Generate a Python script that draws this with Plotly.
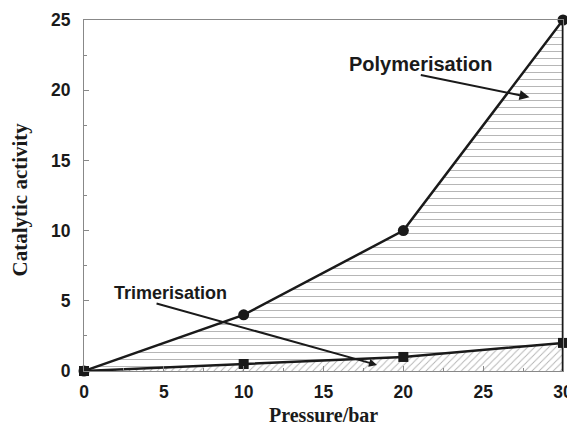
import plotly.graph_objects as go

pressure = [0, 10, 20, 30]
polymerisation = [0, 4, 10, 25]
trimerisation = [0, 0.5, 1, 2]

x_ticks = [0, 5, 10, 15, 20, 25, 30]
y_ticks = [0, 5, 10, 15, 20, 25]

fig = go.Figure()

fig.add_trace(go.Scatter(
    x=pressure, y=polymerisation, mode="lines+markers",
    line=dict(color="#1a1a1a", width=2.5),
    marker=dict(symbol="circle", size=11, color="#1a1a1a"),
    fill="tozeroy", fillcolor="rgba(0,0,0,0)",
    fillpattern=dict(shape="-", fgcolor="#6a6a6a", bgcolor="white", size=7, solidity=0.14),
    showlegend=False, cliponaxis=False,
))
fig.add_trace(go.Scatter(
    x=pressure, y=trimerisation, mode="lines+markers",
    line=dict(color="#1a1a1a", width=2.5),
    marker=dict(symbol="square", size=10, color="#1a1a1a"),
    fill="tozeroy", fillcolor="rgba(0,0,0,0)",
    fillpattern=dict(shape="/", fgcolor="#666666", bgcolor="white", size=5, solidity=0.18),
    showlegend=False, cliponaxis=False,
))
# right edge of the polymerisation area
fig.add_trace(go.Scatter(
    x=[pressure[-1], pressure[-1]], y=[0, polymerisation[-1]], mode="lines",
    line=dict(color="#1a1a1a", width=2.5), showlegend=False, hoverinfo="skip",
))

fig.add_annotation(
    x=27.9, y=19.5, ax=21.0, ay=21.1, xref="x", yref="y", axref="x", ayref="y",
    text="", showarrow=True, arrowhead=2, arrowsize=1, arrowwidth=2, arrowcolor="#1a1a1a",
)
fig.add_annotation(x=21.1, y=21.85, xref="x", yref="y", text="<b>Polymerisation</b>",
                   showarrow=False, font=dict(family="Liberation Sans, Arial", size=20, color="#1a1a1a"))
fig.add_annotation(
    x=18.35, y=0.43, ax=4.45, ay=4.84, xref="x", yref="y", axref="x", ayref="y",
    text="", showarrow=True, arrowhead=2, arrowsize=0.8, arrowwidth=2, arrowcolor="#1a1a1a",
)
fig.add_annotation(x=5.4, y=5.55, xref="x", yref="y", text="<b>Trimerisation</b>",
                   showarrow=False, font=dict(family="Liberation Sans, Arial", size=18, color="#1a1a1a"))

# axis titles
fig.add_annotation(x=0.5, y=0, xref="paper", yref="paper", yshift=-44,
                   xanchor="center", yanchor="middle",
                   text="<b>Pressure/bar</b>", showarrow=False,
                   font=dict(family="Liberation Serif, Times New Roman", size=20, color="#1a1a1a"))
fig.add_annotation(x=0, y=0.5, xref="paper", yref="paper", xshift=-65, yshift=-4,
                   xanchor="center", yanchor="middle",
                   text="<b>Catalytic activity</b>", showarrow=False, textangle=-90,
                   font=dict(family="Liberation Serif, Times New Roman", size=21, color="#1a1a1a"))

axis_common = dict(
    showgrid=False, zeroline=False, showline=True, linecolor="#888888", linewidth=1.2,
    mirror=True, ticks="inside", ticklen=5, tickcolor="#888888", tickwidth=1,
    tickfont=dict(family="Liberation Sans, Arial", size=17.5, color="#1a1a1a"),
    automargin=False,
)

fig.update_xaxes(
    range=[0, 30], tickvals=x_ticks, ticktext=[f"<b>{v}</b>" for v in x_ticks],
    minor=dict(ticks="inside", ticklen=3, dtick=2.5, tickcolor="#888888"),
    ticklabelstandoff=5,
    **axis_common,
)
fig.update_yaxes(
    range=[0, 25], tickvals=y_ticks, ticktext=[f"<b>{v}</b>" for v in y_ticks],
    minor=dict(ticks="inside", ticklen=3, dtick=2.5, tickcolor="#888888"),
    ticklabelstandoff=9,
    **axis_common,
)

# the page adds an 8px body margin, so the figure is sized to fit inside it
fig.update_layout(
    width=567, height=419,
    margin=dict(l=76, r=12, t=12, b=56),
    plot_bgcolor="white", paper_bgcolor="white",
)

fig.write_html("out.html")
